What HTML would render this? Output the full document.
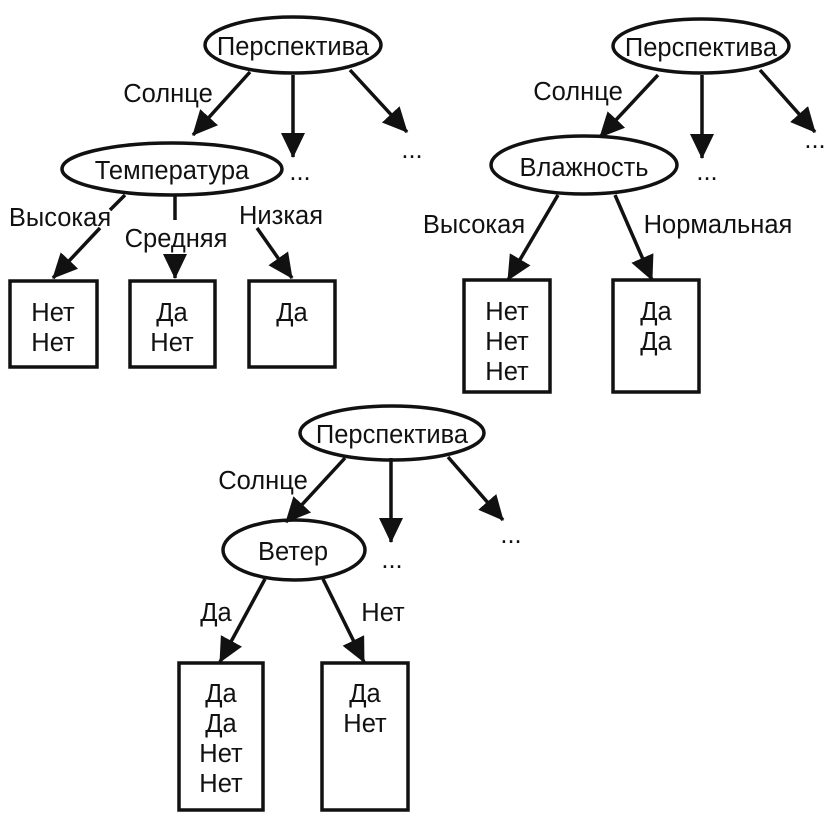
<!DOCTYPE html>
<html><head><meta charset="utf-8"><style>
html,body{margin:0;padding:0;background:#fff}
svg{display:block}
text{font-family:"Liberation Sans",sans-serif;font-size:25.5px;fill:#111}
</style></head><body>
<svg width="836" height="824" viewBox="0 0 836 824" xmlns="http://www.w3.org/2000/svg">
<defs>
<marker id="a" markerUnits="userSpaceOnUse" markerWidth="30" markerHeight="26" refX="24" refY="12" orient="auto">
<path d="M0,0 L25,12 L0,24 Z" fill="#111"/>
</marker>
</defs>
<g stroke="#111" stroke-width="3.5" fill="none">
<ellipse cx="293" cy="45" rx="88" ry="28"/>
<ellipse cx="172" cy="169" rx="110" ry="26"/>
<line x1="250" y1="72" x2="193" y2="135" marker-end="url(#a)"/>
<line x1="293" y1="75" x2="293" y2="157" marker-end="url(#a)"/>
<line x1="350" y1="70" x2="407" y2="132" marker-end="url(#a)"/>
<line x1="125" y1="195" x2="110" y2="210"/>
<line x1="100" y1="228" x2="53" y2="278" marker-end="url(#a)"/>
<line x1="175" y1="195" x2="175" y2="220"/>
<line x1="175" y1="255" x2="175" y2="278" marker-end="url(#a)"/>
<line x1="257" y1="228" x2="292" y2="278" marker-end="url(#a)"/>
<rect x="10" y="281" width="87" height="86"/>
<rect x="130" y="281" width="85" height="86"/>
<rect x="249" y="281" width="86" height="86"/>
<ellipse cx="701" cy="46" rx="88" ry="27"/>
<ellipse cx="584" cy="165" rx="93" ry="29"/>
<line x1="658" y1="75" x2="600" y2="137" marker-end="url(#a)"/>
<line x1="702" y1="75" x2="702" y2="158" marker-end="url(#a)"/>
<line x1="760" y1="70" x2="815" y2="132" marker-end="url(#a)"/>
<line x1="558" y1="195" x2="508" y2="280" marker-end="url(#a)"/>
<line x1="615" y1="195" x2="652" y2="280" marker-end="url(#a)"/>
<rect x="464" y="280" width="86" height="112"/>
<rect x="613" y="280" width="86" height="112"/>
<ellipse cx="392" cy="433" rx="92" ry="27"/>
<ellipse cx="294" cy="550" rx="71" ry="30"/>
<line x1="345" y1="458" x2="286" y2="522" marker-end="url(#a)"/>
<line x1="391" y1="458" x2="391" y2="542" marker-end="url(#a)"/>
<line x1="448" y1="457" x2="503" y2="520" marker-end="url(#a)"/>
<line x1="265" y1="579" x2="220" y2="662" marker-end="url(#a)"/>
<line x1="323" y1="579" x2="364" y2="662" marker-end="url(#a)"/>
<rect x="179" y="663" width="84" height="147"/>
<rect x="322" y="663" width="86" height="147"/>
</g>
<g text-anchor="middle">
<text x="293" y="55">Перспектива</text>
<text x="172" y="179">Температура</text>
<text x="168" y="102">Солнце</text>
<text x="60" y="226">Высокая</text>
<text x="176" y="247">Средняя</text>
<text x="281" y="224">Низкая</text>
<text x="300" y="180" font-size="18">...</text>
<text x="412" y="158" font-size="18">...</text>
<text x="53" y="321">Нет</text><text x="53" y="351">Нет</text>
<text x="172" y="321">Да</text><text x="172" y="351">Нет</text>
<text x="292" y="321">Да</text>

<text x="701" y="56">Перспектива</text>
<text x="584" y="176">Влажность</text>
<text x="578" y="100">Солнце</text>
<text x="474" y="233">Высокая</text>
<text x="718" y="233">Нормальная</text>
<text x="707" y="180" font-size="18">...</text>
<text x="815" y="148" font-size="18">...</text>
<text x="507" y="320">Нет</text><text x="507" y="350">Нет</text><text x="507" y="380">Нет</text>
<text x="656" y="320">Да</text><text x="656" y="350">Да</text>

<text x="392" y="443">Перспектива</text>
<text x="293" y="560">Ветер</text>
<text x="263" y="489">Солнце</text>
<text x="216" y="621">Да</text>
<text x="383" y="621">Нет</text>
<text x="392" y="568" font-size="18">...</text>
<text x="511" y="543" font-size="18">...</text>
<text x="221" y="702">Да</text><text x="221" y="732">Да</text><text x="221" y="762">Нет</text><text x="221" y="792">Нет</text>
<text x="365" y="702">Да</text><text x="365" y="732">Нет</text>
</g>
</svg>
</body></html>
